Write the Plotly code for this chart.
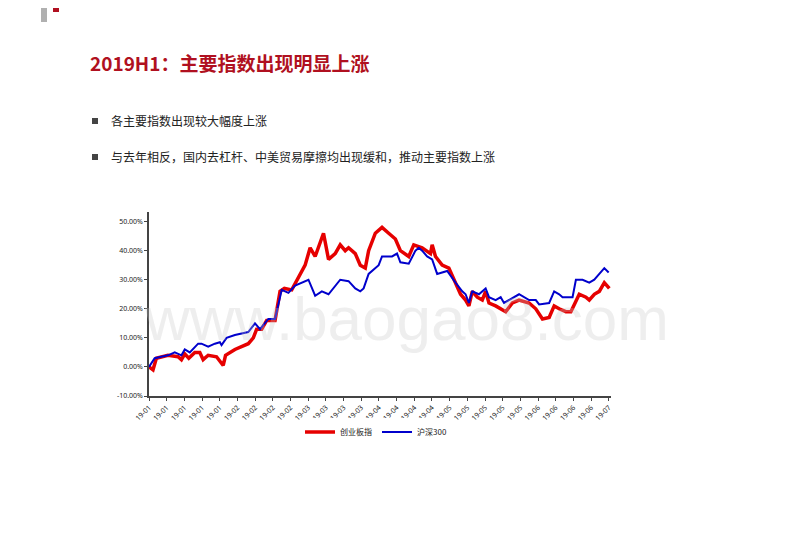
import plotly.graph_objects as go

tick_labels = ["19-01"]*5 + ["19-02"]*4 + ["19-03"]*4 + ["19-04"]*4 + ["19-05"]*5 + ["19-06"]*4 + ["19-07"]
tick_pos = [143 + i*52.9 for i in range(len(tick_labels))]

cyb_x = [143,155,165,200,230,240,250,262,280,295,305,320,345,355,365,372,400,440,455,465,480,495,520,535,548,570,595,610,625,640,665,680,700,715,730,740,760,775,790,800,820,840,860,880,895,920,935,960,985,990,1000,1020,1040,1060,1075,1090,1100,1110,1125,1140,1150,1160,1180,1210,1230,1250,1280,1300,1320,1340,1355,1370,1390,1405,1430,1450,1460,1475,1490,1505,1520]
cyb_y = [0,-1,3,4,3.5,2.5,4.5,3,5,5,2.5,4,3.5,2,0.5,4,6,8,10,13,13,16,16,26,27,26.5,32,35,41,38,46,37,39,42,40,41,39,35,34,40,46,48,46,44,40,38,42,41,39,42,38,35,34,29,25,23,21,26,24,23,26,22,21,19,22,23,22,20,16.5,17,21,20,19,19,25,24,23,25,26,29,27]
hs_x = [143,160,200,220,240,250,265,290,300,320,340,355,360,375,400,440,460,475,500,520,540,560,580,620,640,660,680,715,740,760,775,785,800,830,840,870,885,895,920,940,950,960,975,990,1005,1035,1060,1080,1090,1100,1110,1130,1150,1160,1180,1195,1205,1250,1280,1300,1310,1340,1355,1370,1380,1410,1420,1440,1460,1475,1490,1505,1518]
hs_y = [0,3,4,5,4,6,5,8,8,7,8,8.5,7.5,10,11,12,15,13,16.5,16.5,26.5,25.5,28,30,24.5,26,25,30,29.5,27,26,27,32,35,38,38,39,36,35.5,40,41,40,38,37,32,33,29,26,25,22,26,25,27,24,23,24,22,25,23,23,21.5,22,26,25,24,24,30,30,29,30,32,34,32.5]

DX, DY = 7, 8
L, R, T, B = 148-DX, 610-DX, 212-DY, 396-DY
def px(x): return (x-DX-L)/(R-L)
def py(y): return (B-(y-DY))/(B-T)

fig = go.Figure()
fig.add_trace(go.Scatter(x=cyb_x, y=cyb_y, mode="lines", name="创业板指", line=dict(color="#e60000", width=3.5)))
fig.add_trace(go.Scatter(x=hs_x, y=hs_y, mode="lines", name="沪深300", line=dict(color="#0000cc", width=2)))

fig.update_layout(
    width=800, height=553, paper_bgcolor="white", plot_bgcolor="white",
    margin=dict(l=L, r=800-R, t=T, b=553-B, autoexpand=False),
    font=dict(family="Noto Sans CJK SC", color="#222"),
    legend=dict(orientation="h", x=px(375), xanchor="center", y=py(432), yanchor="middle", font=dict(size=8)),
    xaxis=dict(range=[143, 1525], tickvals=tick_pos, ticktext=tick_labels, tickangle=-45,
               showgrid=False, showline=True, linecolor="#444", linewidth=1.5, ticks="outside", ticklen=3,
               tickfont=dict(size=7, family="Noto Sans"), zeroline=False),
    yaxis=dict(range=[-10, 53.3], tickvals=[-10,0,10,20,30,40,50],
               ticktext=["-10.00%","0.00%","10.00%","20.00%","30.00%","40.00%","50.00%"],
               showgrid=False, showline=True, linecolor="#444", linewidth=1.5, ticks="outside", ticklen=3,
               tickfont=dict(size=7, family="Noto Sans"), zeroline=False),
    shapes=[
        dict(type="rect", xref="paper", yref="paper", x0=px(40), x1=px(46), y0=py(22), y1=py(0), fillcolor="#b0b0b0", line_width=0),
        dict(type="rect", xref="paper", yref="paper", x0=px(52), x1=px(58), y0=py(12), y1=py(0), fillcolor="#b01020", line_width=0),
        dict(type="rect", xref="paper", yref="paper", x0=px(91), x1=px(97), y0=py(124), y1=py(118), fillcolor="#444", line_width=0),
        dict(type="rect", xref="paper", yref="paper", x0=px(91), x1=px(97), y0=py(160), y1=py(154), fillcolor="#444", line_width=0),
    ],
    annotations=[
        dict(text="<b>2019H1：主要指数出现明显上涨</b>", xref="paper", yref="paper", x=px(87), y=py(62), xanchor="left", yanchor="middle",
             showarrow=False, font=dict(size=19, color="#b01020", family="Noto Sans CJK SC")),
        dict(text="各主要指数出现较大幅度上涨", xref="paper", yref="paper", x=px(108), y=py(121), xanchor="left", yanchor="middle",
             showarrow=False, font=dict(size=12, color="#222")),
        dict(text="与去年相反，国内去杠杆、中美贸易摩擦均出现缓和，推动主要指数上涨", xref="paper", yref="paper", x=px(108), y=py(157), xanchor="left", yanchor="middle",
             showarrow=False, font=dict(size=12, color="#222")),
        dict(text="www.baogao8.com", xref="paper", yref="paper", x=px(405), y=py(318), xanchor="center", yanchor="middle",
             showarrow=False, font=dict(size=62, color="rgba(200,200,200,0.3)", family="Liberation Sans")),
    ],
)
fig.write_html("out.html")
